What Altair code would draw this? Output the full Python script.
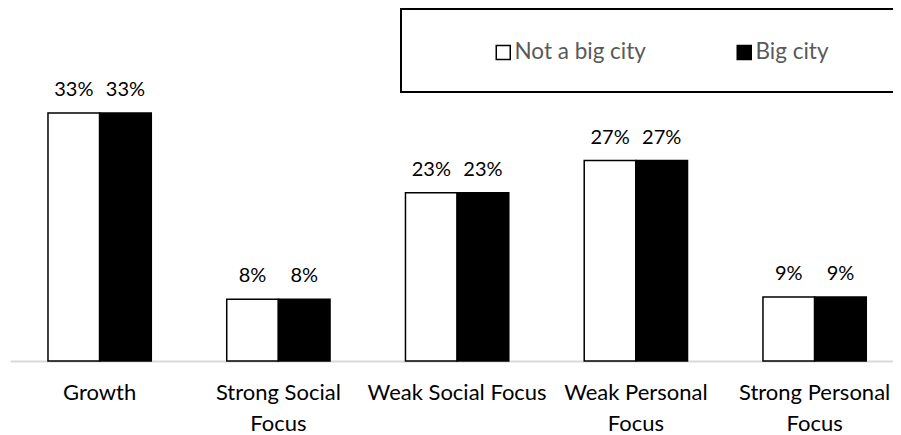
import altair as alt
import pandas as pd

categories = ["Growth", "Strong Social|Focus", "Weak Social Focus", "Weak Personal|Focus", "Strong Personal|Focus"]
series = ["Not a big city", "Big city"]
not_big_city = [0.333, 0.083, 0.226, 0.269, 0.086]
big_city = [0.333, 0.083, 0.226, 0.269, 0.086]
colors = ["#ffffff", "#000000"]

rows = []
for i, c in enumerate(categories):
    rows.append({"category": c, "series": series[0], "value": not_big_city[i]})
    rows.append({"category": c, "series": series[1], "value": big_city[i]})
df = pd.DataFrame(rows)

FONT = "Lato"

x = alt.X(
    "category:N",
    sort=categories,
    scale=alt.Scale(paddingInner=0.422, paddingOuter=0.181, align=0.587),
    axis=alt.Axis(
        title=None,
        labelExpr="split(datum.label, '|')",
        labelAngle=0,
        labelFont=FONT,
        labelFontSize=22,
        labelColor="#000000",
        labelPadding=21,
        labelLineHeight=31,
        labelLimit=300,
        ticks=False,
        domainColor="#d9d9d9",
        domainWidth=2,
        grid=False,
    ),
)
xo = alt.XOffset("series:N", sort=series, scale=alt.Scale(paddingInner=0, paddingOuter=0))
y = alt.Y("value:Q", scale=alt.Scale(domain=[0, 0.4]), axis=None)

# legend frame (decoration around the legend entries; its right side runs off the picture)
one = pd.DataFrame({"frame": [1]})
frame_top = alt.Chart(one).mark_rule(color="black", strokeWidth=2).encode(
    x=alt.value(390), x2=alt.value(960), y=alt.value(-54)
)
frame_bottom = alt.Chart(one).mark_rule(color="black", strokeWidth=2).encode(
    x=alt.value(390), x2=alt.value(960), y=alt.value(29)
)
frame_left = alt.Chart(one).mark_rule(color="black", strokeWidth=2).encode(
    x=alt.value(391), y=alt.value(-55), y2=alt.value(30)
)

bars = alt.Chart(df).mark_bar(stroke="black", strokeWidth=1.5).encode(
    x=x,
    xOffset=xo,
    y=y,
    color=alt.Color(
        "series:N",
        sort=series,
        scale=alt.Scale(domain=series, range=colors),
        legend=alt.Legend(
            title=None,
            orient="none",
            legendX=482,
            legendY=-22,
            direction="horizontal",
            columns=2,
            columnPadding=87,
            symbolType="square",
            symbolSize=196,
            symbolStrokeColor="black",
            symbolStrokeWidth=1.5,
            labelFont=FONT,
            labelFontSize=22.5,
            labelColor="#595959",
            labelOffset=0,
            labelLimit=400,
            padding=0,
        ),
    ),
)

labels = alt.Chart(df).mark_text(
    dy=-17, baseline="alphabetic", fontSize=20, font=FONT, color="black"
).encode(
    x=x,
    xOffset=xo,
    y=y,
    text=alt.Text("value:Q", format=".0%"),
)

chart = (
    alt.layer(frame_top, frame_bottom, frame_left, bars, labels)
    .properties(
        width=883,
        height=298,
        autosize=alt.AutoSizeParams(type="none"),
        padding={"left": 2, "top": 55, "right": 0, "bottom": 74},
    )
    .configure_view(stroke=None)
)

chart.save("out.html", embed_options={"renderer": "svg", "actions": False})
